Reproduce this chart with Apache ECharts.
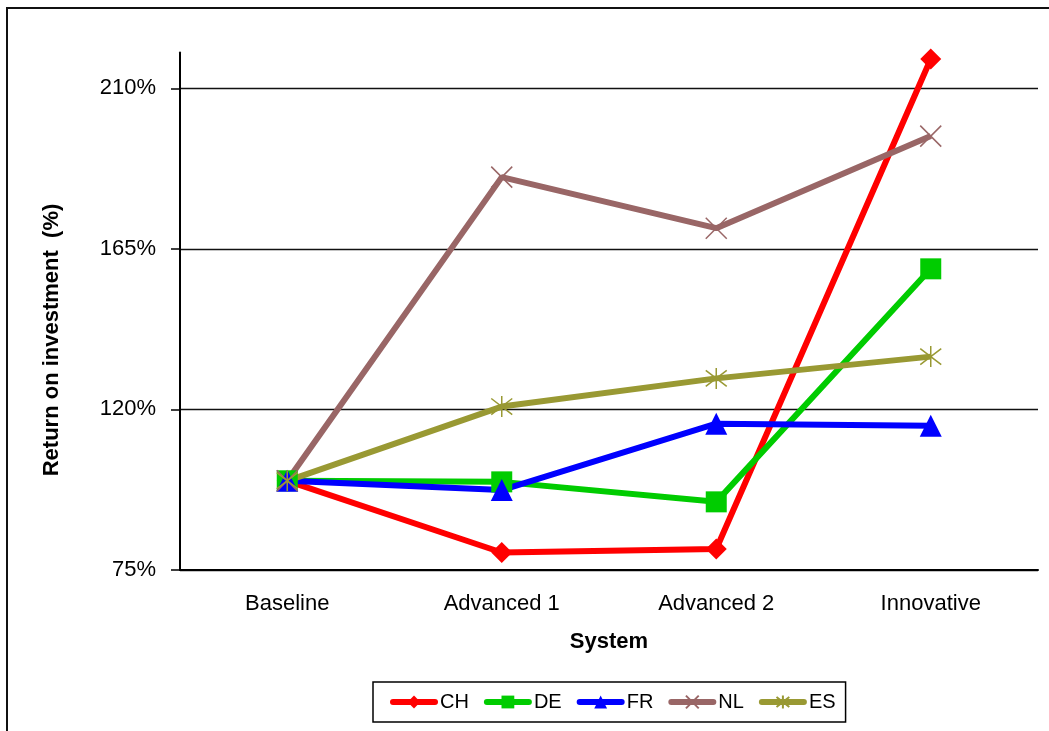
<!DOCTYPE html>
<html>
<head>
<meta charset="utf-8">
<script src="https://cdn.jsdelivr.net/npm/echarts@6/dist/echarts.min.js"></script>
<style>
  html, body { margin: 0; padding: 0; background: #fff; }
  #chart { width: 1049px; height: 731px; }
</style>
</head>
<body>
<div id="chart"></div>
<script>
// Return on investment by system and country (%)
const categories = ['Baseline', 'Advanced 1', 'Advanced 2', 'Innovative'];
const yTicks = [75, 120, 165, 210];

const CH = [100, 79.9, 80.9, 218.2];
const DE = [100, 99.7, 94.1, 159.4];
const FR = [100, 97.4, 116.0, 115.4];
const NL = [100, 185.1, 170.8, 196.6];
const ES = [100, 120.8, 128.7, 134.8];

const FONT = '"Liberation Sans", Arial, sans-serif';

const crossPath = 'path://M0,0L10,10M10,0L0,10';
const starPath = 'path://M0,0L10,10M10,0L0,10M5,-1.5L5,11.5';

function lineSeries(name, data, color, symbol, size, stroked) {
  return {
    name: name,
    type: 'line',
    data: data,
    symbol: symbol,
    symbolSize: size,
    showAllSymbol: true,
    lineStyle: { color: color, width: 6 },
    itemStyle: stroked
      ? { color: color, borderColor: color, borderWidth: 1.5 }
      : { color: color },
    emphasis: { disabled: true },
    animation: false
  };
}

const chart = echarts.init(document.getElementById('chart'));
chart.setOption({
  backgroundColor: '#fff',
  animation: false,
  grid: { left: 180, right: 11, top: 52.6, bottom: 161 },
  xAxis: {
    type: 'category',
    data: categories,
    boundaryGap: true,
    axisLine: { lineStyle: { color: '#000', width: 2 } },
    axisTick: { show: false },
    axisLabel: { color: '#000', fontFamily: FONT, fontSize: 22, margin: 23 },
    name: 'System',
    nameLocation: 'middle',
    nameGap: 61,
    nameTextStyle: { color: '#000', fontFamily: FONT, fontSize: 22, fontWeight: 'bold' }
  },
  yAxis: {
    type: 'value',
    min: 75,
    max: 220,
    interval: 45,
    axisLine: { show: true, lineStyle: { color: '#000', width: 2 } },
    axisTick: { show: true, inside: false, length: 9, customValues: yTicks, lineStyle: { color: '#000', width: 1.5 } },
    axisLabel: {
      customValues: yTicks,
      color: '#000', fontFamily: FONT, fontSize: 22, margin: 24,
      formatter: v => v + '%'
    },
    splitLine: { show: true, lineStyle: { color: '#111', width: 1.3 } }
  },
  legend: {
    left: 373,
    top: 682,
    orient: 'horizontal',
    padding: [10, 10, 10, 17],
    itemGap: 15,
    itemWidth: 42,
    itemHeight: 16,
    borderColor: '#000',
    borderWidth: 1.5,
    backgroundColor: '#fff',
    lineStyle: { width: 6, cap: 'round' },
    textStyle: { color: '#000', fontFamily: FONT, fontSize: 20 },
    data: ['CH', 'DE', 'FR', 'NL', 'ES']
  },
  graphic: [
    {
      type: 'rect',
      shape: { x: 7, y: 8, width: 1100, height: 800 },
      style: { fill: 'none', stroke: '#111', lineWidth: 2 },
      silent: true,
      z: -10
    },
    {
      type: 'text',
      x: 52,
      y: 340,
      rotation: Math.PI / 2,
      style: {
        text: 'Return on investment  (%)',
        fill: '#000',
        font: 'bold 22px ' + FONT,
        align: 'center',
        verticalAlign: 'middle'
      },
      silent: true
    }
  ],
  series: [
    lineSeries('CH', CH, '#FF0000', 'diamond', 21, false),
    lineSeries('DE', DE, '#00CC00', 'rect', 21, false),
    lineSeries('FR', FR, '#0000FF', 'triangle', 22, false),
    lineSeries('NL', NL, '#996666', crossPath, 21, true),
    lineSeries('ES', ES, '#999933', starPath, 21, true)
  ]
});
</script>
</body>
</html>
